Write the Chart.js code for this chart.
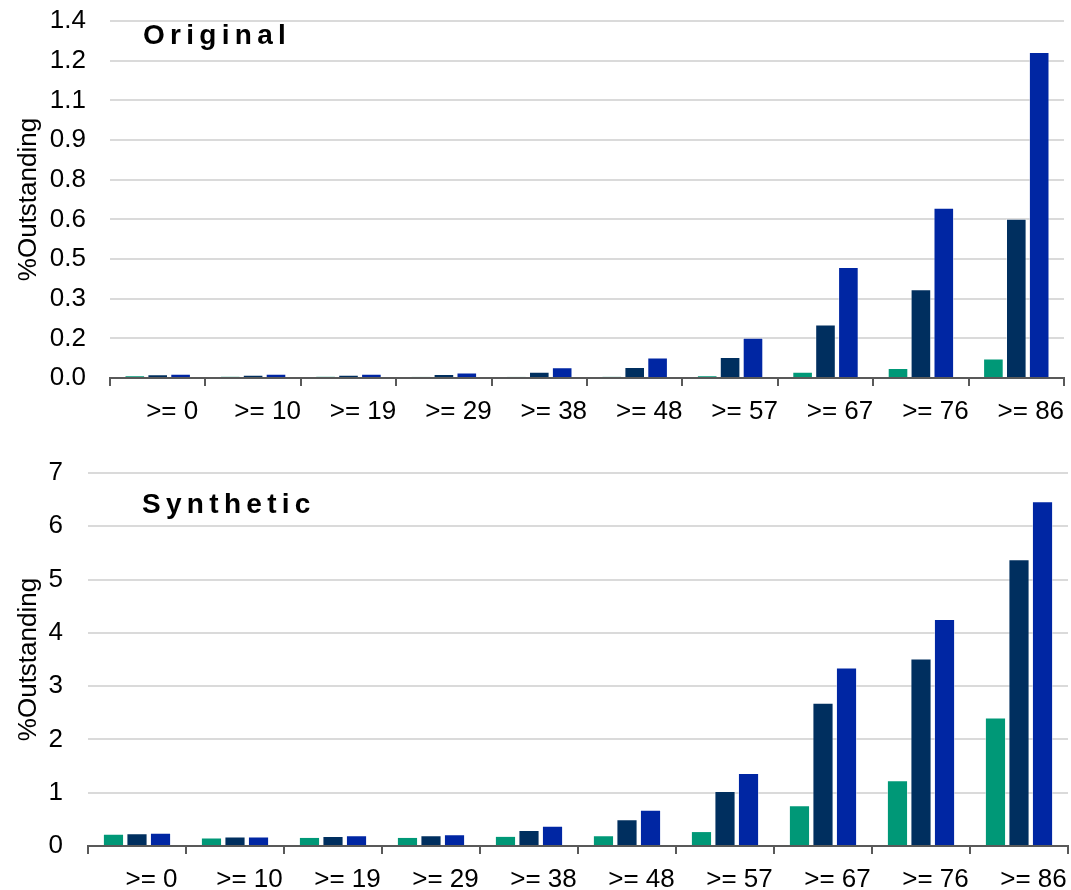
<!DOCTYPE html>
<html>
<head>
<meta charset="utf-8">
<script src="https://cdn.jsdelivr.net/npm/chart.js@4.4.1/dist/chart.umd.min.js"></script>
<style>
  body { margin: 0; background: #fff; }
  .panel { position: absolute; left: 0; width: 1071px; }
</style>
</head>
<body>
<div class="panel" style="top:0;height:440px"><canvas id="original"></canvas></div>
<div class="panel" style="top:440px;height:450px"><canvas id="synthetic"></canvas></div>
<script>
// score buckets on the x axis
const buckets = [">= 0", ">= 10", ">= 19", ">= 29", ">= 38", ">= 48", ">= 57", ">= 67", ">= 76", ">= 86"];

// % outstanding, original portfolio
const origLow  = [0.009, 0.0065, 0.0065, 0.005, 0.005, 0.006, 0.010, 0.025, 0.039, 0.076];
const origMid  = [0.0145, 0.013, 0.013, 0.016, 0.025, 0.043, 0.082, 0.21, 0.348, 0.625];
const origHigh = [0.017, 0.017, 0.017, 0.022, 0.042, 0.08, 0.158, 0.435, 0.668, 1.278];

// % outstanding, synthetic portfolio
const synLow  = [0.23, 0.16, 0.17, 0.17, 0.19, 0.20, 0.28, 0.765, 1.235, 2.41];
const synMid  = [0.24, 0.18, 0.19, 0.20, 0.30, 0.50, 1.03, 2.69, 3.52, 5.38];
const synHigh = [0.25, 0.18, 0.20, 0.22, 0.38, 0.68, 1.37, 3.35, 4.26, 6.47];

// the original axis runs 0..1.4 in nine equal steps, labels rounded to one decimal
const origTickLabels = ["0.0", "0.2", "0.3", "0.5", "0.6", "0.8", "0.9", "1.1", "1.2", "1.4"];
const origMax = 1.4;
const synTickLabels = ["0", "1", "2", "3", "4", "5", "6", "7"];
const synMax = 7;

const colors = ["#009877", "#002f5f", "#0026a3"];

Chart.defaults.font.family = '"Liberation Sans", Arial, sans-serif';
Chart.defaults.color = "#000";

// bold spaced title inside the plot
const panelTitle = {
  id: "panelTitle",
  afterDraw(chart, args, opts) {
    const ctx = chart.ctx;
    ctx.save();
    ctx.font = 'bold 28px "Liberation Sans", Arial, sans-serif';
    ctx.fillStyle = "#000";
    ctx.textBaseline = "alphabetic";
    let x = opts.x;
    for (const ch of opts.text) {
      ctx.fillText(ch, x, opts.y);
      x += ctx.measureText(ch).width + opts.spacing;
    }
    ctx.restore();
  }
};

const make_chart = (id, series, tickLabels, max, cfg) => {
  const n = tickLabels.length - 1;
  return new Chart(document.getElementById(id), {
    type: "bar",
    data: {
      labels: buckets,
      datasets: series.map((d, i) => ({
        data: d,
        backgroundColor: colors[i],
        borderColor: "rgba(255,255,255,0.45)",
        borderWidth: 1,
        categoryPercentage: 0.72,
        barPercentage: 0.9
      }))
    },
    options: {
      responsive: true,
      maintainAspectRatio: false,
      animation: false,
      layout: { padding: { top: cfg.top, right: cfg.right, left: 0, bottom: 0 } },
      plugins: {
        legend: { display: false },
        tooltip: { enabled: false },
        panelTitle: { text: cfg.title, x: cfg.titleX, y: cfg.titleY, spacing: 5.3 }
      },
      scales: {
        x: {
          offset: true,
          grid: {
            offset: true,
            drawOnChartArea: false,
            drawTicks: true,
            tickLength: 8,
            color: "#595959",
            lineWidth: 2
          },
          border: { color: "#595959", width: 2 },
          ticks: {
            font: { size: 26 },
            color: "#000",
            labelOffset: 14.5,
            padding: 10,
            maxRotation: 0,
            autoSkip: false
          },
          afterFit: s => {
            s.height = cfg.xHeight;
            s.paddingLeft = 0;
            s.paddingRight = 0;
          }
        },
        y: {
          min: 0,
          max: max,
          border: { display: false },
          grid: { color: "#dadada", lineWidth: 2, drawTicks: false },
          ticks: {
            font: { size: 26 },
            color: "#000",
            padding: cfg.tickPad,
            callback: (v, i) => tickLabels[i]
          },
          afterBuildTicks: s => {
            s.ticks = tickLabels.map((_, i) => ({ value: i * max / n }));
          },
          afterFit: s => {
            s.width = cfg.yWidth;
            s.paddingTop = 0;
            s.paddingBottom = 0;
          },
          title: {
            display: true,
            text: "%Outstanding",
            font: { size: 26 },
            color: "#000",
            padding: { top: 13, bottom: 0 }
          }
        }
      }
    },
    plugins: [panelTitle]
  });
};

make_chart("original", [origLow, origMid, origHigh], origTickLabels, origMax, {
  top: 21, right: 7, xHeight: 62, yWidth: 110, tickPad: 24,
  title: "Original", titleX: 143, titleY: 44
});

make_chart("synthetic", [synLow, synMid, synHigh], synTickLabels, synMax, {
  top: 33, right: 3, xHeight: 44, yWidth: 88, tickPad: 25,
  title: "Synthetic", titleX: 142, titleY: 73
});
</script>
</body>
</html>
